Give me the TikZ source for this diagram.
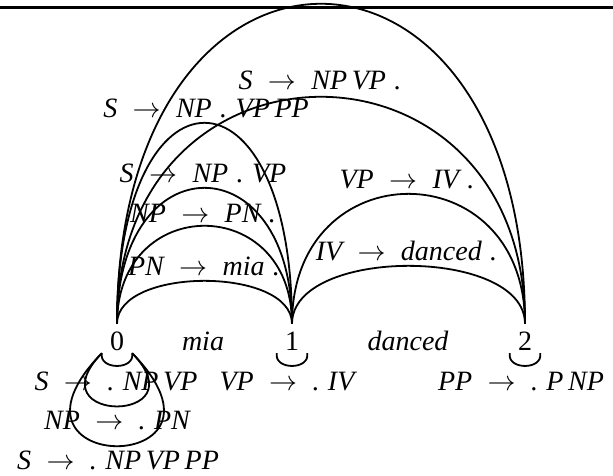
\documentclass[tikz,border=0pt]{standalone}
\usepackage{fontspec}
\setmainfont{Liberation Serif}
\newcommand\rarr{\hspace{0.55em}\scalebox{1.125}{$\rightarrow$}\hspace{0.55em}}
\newcommand\dsp{\hspace{0.3em}.\hspace{0.3em}}
\newcommand\pd{\hspace{0.3em}.}
\begin{document}
\begin{tikzpicture}[x=1pt,y=-1pt,
  every node/.style={font=\fontsize{28}{34}\selectfont},
  itlab/.style={anchor=base, inner sep=0pt, font=\fontsize{28}{34}\selectfont\itshape},
  posnode/.style={anchor=base, inner xsep=8pt, inner ysep=0pt, text height=26pt, text depth=3pt},
  arcline/.style={line width=1.8pt},
  topline/.style={line width=2.4pt}]
\useasboundingbox (0,0) rectangle (613,475);
% top rule
\coordinate (tl) at (0,7.3);
\coordinate (tr) at (613,7.3);
\draw[topline] (tl) -- (tr);
% positions and words
\node[posnode] (n0) at (117,350) {0};
\node[posnode] (n1) at (292,350) {1};
\node[posnode] (n2) at (525,350) {2};
\node[itlab] (w1) at (203,350) {mia};
\node[itlab] (w2) at (408,350) {danced};
% arcs 0-1
\draw[arcline] (n0.north) .. controls +(0,-57.3) and +(0,-57.3) .. (n1.north);
\draw[arcline] (n0.north) .. controls +(0,-130.7) and +(0,-130.7) .. (n1.north);
\draw[arcline] (n0.north) .. controls +(0,-181.3) and +(0,-181.3) .. (n1.north);
\draw[arcline] (n0.north) .. controls +(0,-268) and +(0,-268) .. (n1.north);
% arcs 0-2
\draw[arcline] (n0.north) .. controls +(0,-302.7) and +(0,-302.7) .. (n2.north);
\draw[arcline] (n0.north) .. controls +(0,-426.7) and +(0,-426.7) .. (n2.north);
% arcs 1-2
\draw[arcline] (n1.north) .. controls +(0,-77.3) and +(0,-77.3) .. (n2.north);
\draw[arcline] (n1.north) .. controls +(0,-173.3) and +(0,-173.3) .. (n2.north);
% loops
\draw[arcline] (n0.south west) .. controls +(-3,17) and +(3,17) .. (n0.south east);
\draw[arcline] (n0.south west) .. controls +(-69,71) and +(69,71) .. (n0.south east);
\draw[arcline] (n0.south west) .. controls +(-121,124) and +(121,124) .. (n0.south east);
\draw[arcline] (n1.south west) .. controls +(-3,17) and +(3,17) .. (n1.south east);
\draw[arcline] (n2.south west) .. controls +(-3,17) and +(3,17) .. (n2.south east);
% arc labels
\node[itlab] (l1) at (204,275) {PN\rarr mia\pd};
\node[itlab] (l2) at (203,222) {NP\rarr PN\pd};
\node[itlab] (l3) at (203,182) {S\rarr NP\dsp VP};
\node[itlab] (l4) at (206,117) {S\rarr NP\dsp VP\,PP};
\node[itlab] (l5) at (320,89) {S\rarr NP\,VP\pd};
\node[itlab] (l6) at (407,188) {VP\rarr IV\pd};
\node[itlab] (l7) at (406.5,260) {IV\rarr danced\pd};
% loop labels
\node[itlab] (b1) at (116,390) {S\rarr .\hspace{0.3em}NP\,VP};
\node[itlab] (b2) at (117,429) {NP\rarr .\hspace{0.3em}PN};
\node[itlab] (b3) at (118,469) {S\rarr .\hspace{0.3em}NP\,VP\,PP};
\node[itlab] (b4) at (287,390) {VP\rarr .\hspace{0.3em}IV};
\node[itlab] (b5) at (521,390) {PP\rarr .\hspace{0.3em}P\,NP};
\end{tikzpicture}
\end{document}
